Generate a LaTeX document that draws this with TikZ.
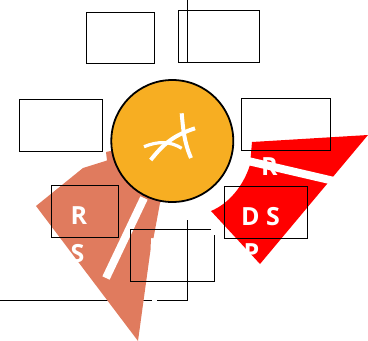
\documentclass[tikz,border=0pt]{standalone}
\usepackage{fontspec}
\setmainfont{Open Sans}
\usepackage{tikz}
\usetikzlibrary{calc}
\definecolor{hubfill}{HTML}{F7AE22}
\definecolor{peach}{HTML}{E07B5E}
\tikzset{
    labelbox/.style={rectangle, draw=black, line width=0.9pt, inner sep=0pt, outer sep=0pt},
    whitetext/.style={text=white, inner sep=0pt, anchor=base, font=\fontsize{25}{30}\selectfont\bfseries},
    iconstroke/.style={draw=white, line width=4pt, line cap=butt},
    band/.style={draw=white, line width=8pt}
}

\begin{document}
\begin{tikzpicture}[x=1pt, y=-1pt]
    \useasboundingbox (0,0) rectangle (368,341);

    % wire behind everything
    \coordinate (wiretop) at (187,0);
    \coordinate (wiremid) at (187,62.5);
    \coordinate (wirelow) at (187,220);
    \coordinate (wirecorner) at (187,300);
    \coordinate (wireend) at (0,300);
    \draw[line width=0.9pt] (wirelow) -- (wirecorner) -- (wireend);

    % the two wedges
    \fill[peach] (36,206) -- (83,168) -- (107,160.5) -- (106,152) -- (115,150)
        -- (165,195) -- (160,203) -- (153.5,238) -- (151,238) -- (150.5,250) -- (138,341) -- cycle;
    \fill[red] (252,142) -- (368,135) -- (260,264) -- (211,211)
        .. controls (228,204) and (243,187) .. (250,165) -- cycle;

    \coordinate (peachbandA) at (144,198);
    \coordinate (peachbandB) at (106,278);
    \coordinate (redbandA) at (248,161);
    \coordinate (redbandB) at (334,181);

    % texts
    \node[whitetext] (riskr) at (79,224.5) {R};
    \node[whitetext] (risks) at (77.5,262) {S};
    \node[whitetext] (ds) at (260.5,225) {D S};
    \node[whitetext] (topr) at (269.5,175) {R};
    \node[whitetext] (lowp) at (251.5,261) {P};

    \draw[band] (peachbandA) -- (peachbandB);
    \draw[band] (redbandA) -- (redbandB);

    % boxes
    \node[labelbox, minimum width=68pt, minimum height=51pt] (boxa) at (120,37.5) {};
    \node[labelbox, minimum width=81pt, minimum height=52pt] (boxb) at (218.5,36) {};
    \node[labelbox, minimum width=83pt, minimum height=52pt] (boxc) at (60.5,125) {};
    \node[labelbox, minimum width=89pt, minimum height=52pt] (boxd) at (285.5,124) {};
    \node[labelbox, minimum width=67pt, minimum height=52pt] (boxe) at (84.5,211) {};
    \node[labelbox, minimum width=83pt, minimum height=52pt] (boxf) at (265.5,212) {};
    \node[labelbox, minimum width=84pt, minimum height=52pt] (boxg) at (172,255.5) {};
    \fill[white] (211,226) rectangle (217,234.5);
    \fill[white] (152.5,297) rectangle (157,302);

    \draw[line width=0.9pt] (wiretop) -- (wiremid);

    % hub
    \node[circle, fill=hubfill, draw=black, line width=1.8pt, minimum size=122pt, inner sep=0pt] (hub) at (172.3,141) {};
    \draw[iconstroke] (181.7,113.3) .. controls (183,128) and (184,142) .. (191,158);
    \draw[iconstroke] (195,128.3) .. controls (175,135) and (165,142) .. (150.7,160);
    \draw[iconstroke, line width=3.2pt] (144,146.7) .. controls (158,141) and (170,141) .. (181.7,148.3);
\end{tikzpicture}
\end{document}
